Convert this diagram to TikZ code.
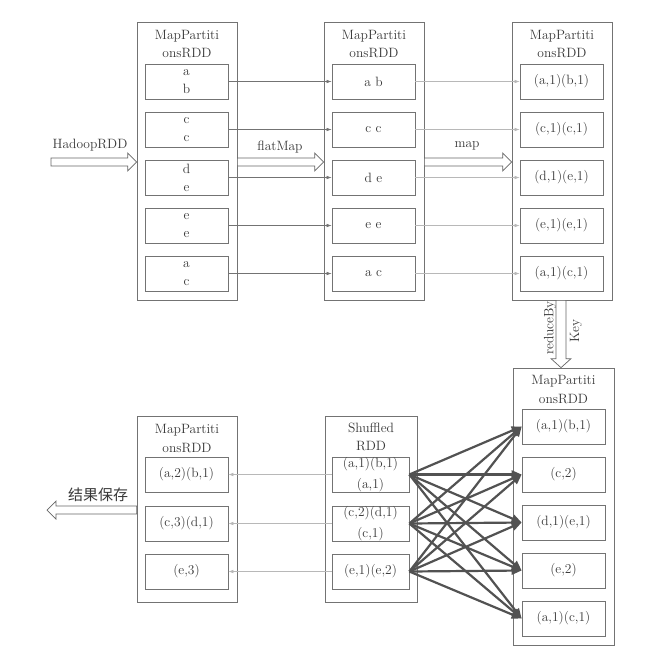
\documentclass[tikz,border=0pt]{standalone}
\usepackage{fontspec}
\newfontfamily\cjkfont{Noto Sans CJK SC}
\usetikzlibrary{arrows.meta,calc}
\definecolor{txt}{gray}{0.22}
\definecolor{boxc}{gray}{0.45}
\tikzset{
  outerbox/.style={draw=boxc, line width=0.7pt, inner sep=0pt},
  innerbox/.style={draw=boxc, line width=0.7pt, minimum width=83pt, minimum height=35pt,
    inner sep=0pt, align=center, font=\fontsize{13.5}{18}\selectfont, text=txt},
  titletext/.style={align=center, font=\fontsize{13.5}{18.5}\selectfont, text=txt},
  lbl/.style={font=\fontsize{13.5}{16}\selectfont, text=txt, inner sep=0pt},
  thinA/.style={draw=black!55, line width=0.6pt, -{Latex[length=5pt,width=3.5pt]}},
  thinB/.style={draw=black!28, line width=0.6pt, -{Latex[length=5pt,width=3.5pt]}},
  shuf/.style={draw=black!68, line width=2.2pt, -{Triangle[length=10pt,width=8pt]}},
  hollow/.style={draw=black!60, fill=white, line width=0.7pt, line join=miter}
}
% horizontal hollow arrow: #1 start, #2 tip, #3 head offset in x
\newcommand{\hollowH}[3]{%
  \draw[hollow] ($(#1)+(0,4)$) -- ($(#2)+(#3,4)$) -- ($(#2)+(#3,9)$) -- (#2)
    -- ($(#2)+(#3,-9)$) -- ($(#2)+(#3,-4)$) -- ($(#1)+(0,-4)$) -- cycle;}
% vertical hollow arrow downward: #1 start, #2 tip
\newcommand{\hollowV}[2]{%
  \draw[hollow] ($(#1)+(-5,0)$) -- ($(#2)+(-5,-9)$) -- ($(#2)+(-10,-9)$) -- (#2)
    -- ($(#2)+(10,-9)$) -- ($(#2)+(5,-9)$) -- ($(#1)+(5,0)$) -- cycle;}
\begin{document}
\begin{tikzpicture}[x=1pt,y=-1pt]
\useasboundingbox (0,0) rectangle (671,657);
\fill[white] (0,0) rectangle (671,657);

% ---------- top row ----------
\node[outerbox, minimum width=100pt, minimum height=278pt] (L1) at (187,161) {};
\node[titletext] (T1) at (187,44) {MapPartiti\\onsRDD};
\node[outerbox, minimum width=100pt, minimum height=278pt] (L2) at (374,161) {};
\node[titletext] (T2) at (374,44) {MapPartiti\\onsRDD};
\node[outerbox, minimum width=100pt, minimum height=278pt] (L3) at (562,161) {};
\node[titletext] (T3) at (562,44) {MapPartiti\\onsRDD};

\node[innerbox] (a1) at (186.5,81.5) {a\\b};
\node[innerbox] (a2) at (186.5,129.5) {c\\c};
\node[innerbox] (a3) at (186.5,177.5) {d\\e};
\node[innerbox] (a4) at (186.5,225.5) {e\\e};
\node[innerbox] (a5) at (186.5,273.5) {a\\c};

\node[innerbox] (b1) at (373.5,81.5) {a b};
\node[innerbox] (b2) at (373.5,129.5) {c c};
\node[innerbox] (b3) at (373.5,177.5) {d e};
\node[innerbox] (b4) at (373.5,225.5) {e e};
\node[innerbox] (b5) at (373.5,273.5) {a c};

\node[innerbox] (p1) at (561.5,81.5) {(a,1)(b,1)};
\node[innerbox] (p2) at (561.5,129.5) {(c,1)(c,1)};
\node[innerbox] (p3) at (561.5,177.5) {(d,1)(e,1)};
\node[innerbox] (p4) at (561.5,225.5) {(e,1)(e,1)};
\node[innerbox] (p5) at (561.5,273.5) {(a,1)(c,1)};

\foreach \i in {1,...,5} {
  \draw[thinA] (a\i.east) -- (b\i.west);
  \draw[thinB] (b\i.east) -- (p\i.west);
}

% hollow arrows top
\coordinate (hs) at (51,162);
\coordinate (ht) at (L1.west |- hs);
\hollowH{hs}{ht}{-9}
\node[lbl] (hl) at (90,145) {HadoopRDD};
\coordinate (fs) at (L1.east |- hs);
\coordinate (ft) at (L2.west |- hs);
\hollowH{fs}{ft}{-9}
\node[lbl] (fl) at (280,147) {flatMap};
\coordinate (ms) at (L2.east |- hs);
\coordinate (mt) at (L3.west |- hs);
\hollowH{ms}{mt}{-9}
\node[lbl] (ml) at (467,146) {map};

% ---------- lower right ----------
\node[outerbox, minimum width=101pt, minimum height=277pt] (L4) at (563.5,506.5) {};
\node[titletext] (T4) at (563.5,389.5) {MapPartiti\\onsRDD};
\node[innerbox] (r1) at (563.5,426.5) {(a,1)(b,1)};
\node[innerbox] (r2) at (563.5,474.5) {(c,2)};
\node[innerbox] (r3) at (563.5,522.5) {(d,1)(e,1)};
\node[innerbox] (r4) at (563.5,570.5) {(e,2)};
\node[innerbox] (r5) at (563.5,618.5) {(a,1)(c,1)};

\coordinate (rs) at ($(L3.south)+(-1,0)$);
\coordinate (rt) at (rs |- L4.north);
\hollowV{rs}{rt}
\node[lbl, rotate=90] (rl1) at (550,328) {reduceBy};
\node[lbl, rotate=90] (rl2) at (576,331) {Key};

% ---------- shuffled ----------
\node[outerbox, minimum width=92pt, minimum height=186pt] (L5) at (371,509) {};
\node[titletext] (T5) at (371,437) {Shuffled\\RDD};
\node[innerbox, minimum width=77pt, font=\fontsize{13.5}{21}\selectfont] (s1) at (370.5,474.5) {(a,1)(b,1)\\(a,1)};
\node[innerbox, minimum width=77pt, font=\fontsize{13.5}{21}\selectfont] (s2) at (370.5,523.5) {(c,2)(d,1)\\(c,1)};
\node[innerbox, minimum width=77pt] (s3) at (370.5,571.5) {(e,1)(e,2)};

% ---------- bottom left ----------
\node[outerbox, minimum width=100pt, minimum height=186pt] (L6) at (187,509) {};
\node[titletext] (T6) at (187,438.5) {MapPartiti\\onsRDD};
\node[innerbox] (f1) at (186.5,474.5) {(a,2)(b,1)};
\node[innerbox] (f2) at (186.5,523.5) {(c,3)(d,1)};
\node[innerbox] (f3) at (186.5,571.5) {(e,3)};

\foreach \i in {1,2,3} {
  \draw[thinB] (s\i.west) -- (f\i.east);
}

\foreach \s in {1,2,3} {
  \foreach \t in {1,...,5} {
    \draw[shuf] (s\s.east) -- (r\t.west);
  }
}

\coordinate (vs) at (L6.west |- 0,510);
\coordinate (vt) at (47,510);
\hollowH{vs}{vt}{9}
\node[font=\cjkfont\fontsize{15}{17}\selectfont, text=txt, inner sep=0pt] (vl) at (98,495) {结果保存};

\end{tikzpicture}
\end{document}
